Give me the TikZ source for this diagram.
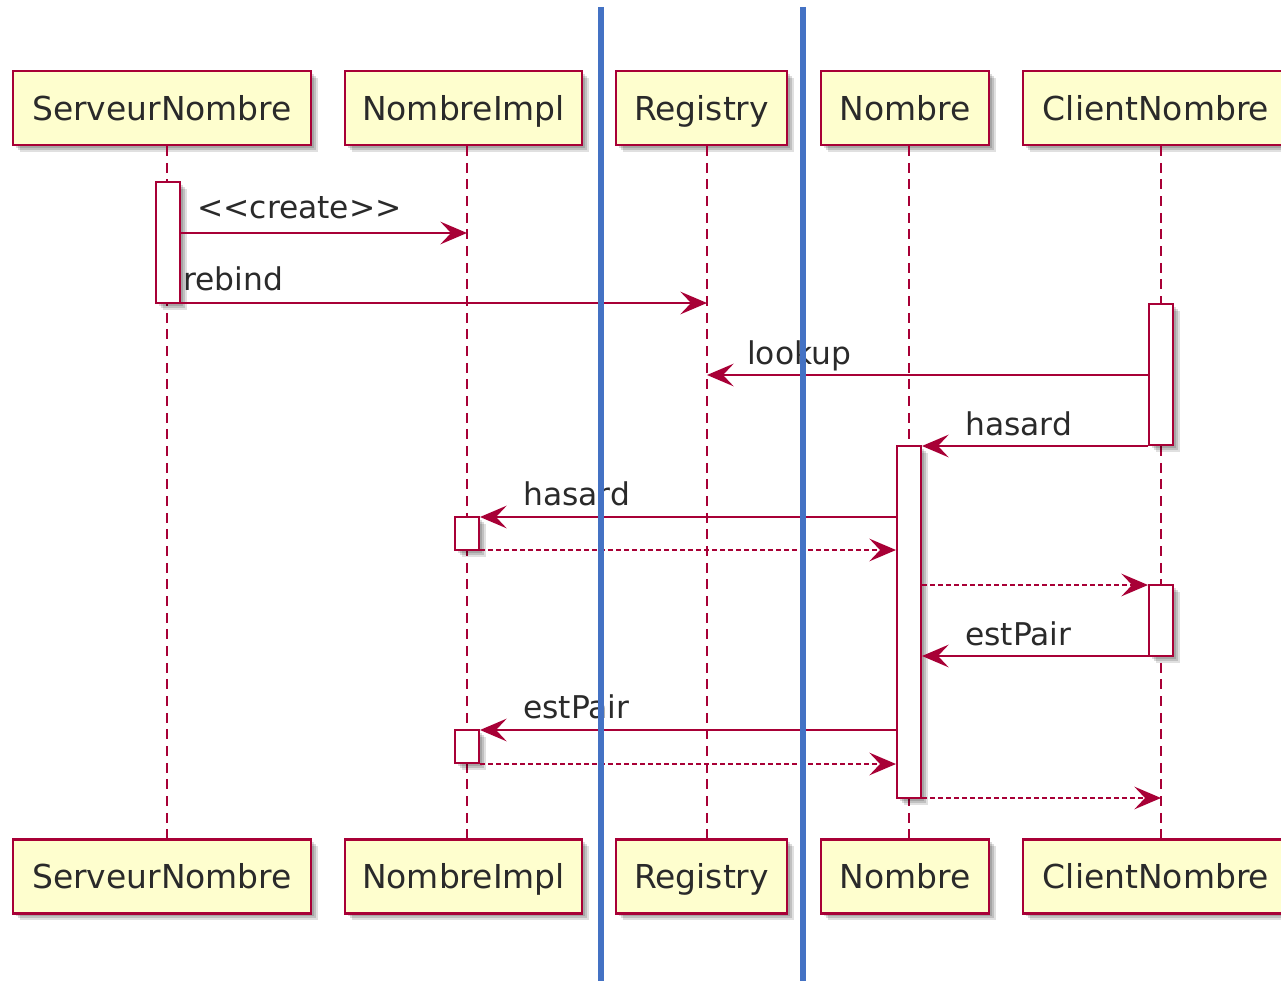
\documentclass[tikz,border=0pt]{standalone}
\usepackage{fontspec}
\setmainfont{DejaVu Sans}
\usetikzlibrary{arrows.meta,shadows,fit}
\definecolor{umlred}{HTML}{A80036}
\definecolor{umlfill}{HTML}{FEFECE}
\definecolor{ink}{HTML}{2A2A2A}
\definecolor{markblue}{HTML}{4472C4}
\begin{document}
\begin{tikzpicture}[x=0.75pt,y=-0.75pt,
  label/.style={font=\fontsize{23.5}{27}\selectfont, text=ink, inner sep=0pt},
  boxshadow/.style={
    drop shadow={shadow xshift=2pt, shadow yshift=-2pt, opacity=0.14, fill=black},
    drop shadow={shadow xshift=3.5pt, shadow yshift=-3.5pt, opacity=0.14, fill=black},
    drop shadow={shadow xshift=5pt, shadow yshift=-5pt, opacity=0.12, fill=black}},
  participant/.style={draw=umlred, line width=1.7pt, fill=umlfill, inner sep=0pt,
    font=\fontsize{24.7}{29}\selectfont, text=ink, text height=18pt, text depth=0pt,
    minimum height=55.5pt, boxshadow},
  activation/.style={draw=umlred, line width=1.5pt, fill=white, inner sep=0pt, boxshadow},
  lifeline/.style={draw=umlred, line width=1.5pt, dash pattern=on 7.5pt off 5pt},
  msg/.style={draw=umlred, line width=1.5pt, -{Stealth[length=20pt,width=17pt,inset=8pt]}},
  reply/.style={msg, dash pattern=on 3.5pt off 2.5pt},
  marker/.style={draw=markblue, line width=3.8pt}
]
\useasboundingbox (0,0) rectangle (1281,981);
\clip (0,0) rectangle (1281,981);

% lifeline positions
\coordinate (xS) at (167,0);
\coordinate (xI) at (467,0);
\coordinate (xR) at (707,0);
\coordinate (xN) at (909,0);
\coordinate (xC) at (1161,0);

% participants, top row
\node[participant, minimum width=223.5pt] (sTop) at (162,108) {ServeurNombre};
\node[participant, minimum width=177.75pt] (iTop) at (463.5,108) {NombreImpl};
\node[participant, minimum width=128.25pt] (rTop) at (701.5,108) {Registry};
\node[participant, minimum width=126pt] (nTop) at (905,108) {Nombre};
\node[participant, minimum width=199.5pt] (cTop) at (1156,108) {ClientNombre};

% participants, bottom row
\node[participant, minimum width=223.5pt] (sBot) at (162,876.5) {ServeurNombre};
\node[participant, minimum width=177.75pt] (iBot) at (463.5,876.5) {NombreImpl};
\node[participant, minimum width=128.25pt] (rBot) at (701.5,876.5) {Registry};
\node[participant, minimum width=126pt] (nBot) at (905,876.5) {Nombre};
\node[participant, minimum width=199.5pt] (cBot) at (1156,876.5) {ClientNombre};

% lifelines
\draw[lifeline] (sTop.south -| xS) -- (sBot.north -| xS);
\draw[lifeline] (iTop.south -| xI) -- (iBot.north -| xI);
\draw[lifeline] (rTop.south -| xR) -- (rBot.north -| xR);
\draw[lifeline] (nTop.south -| xN) -- (nBot.north -| xN);
\draw[lifeline] (cTop.south -| xC) -- (cBot.north -| xC);

% activation bars
\node[activation, fit={(156,182) (180,303)}] (aS) {};
\node[activation, fit={(1149,304) (1173,445)}] (aC1) {};
\node[activation, fit={(897,446) (921,798)}] (aN) {};
\node[activation, fit={(455,517) (479,550)}] (aI1) {};
\node[activation, fit={(1149,585) (1173,656)}] (aC2) {};
\node[activation, fit={(455,730) (479,763)}] (aI2) {};

% message rows
\coordinate (y1) at (0,233);
\coordinate (y2) at (0,303);
\coordinate (y3) at (0,375);
\coordinate (y4) at (0,446);
\coordinate (y5) at (0,517);
\coordinate (y6) at (0,550);
\coordinate (y7) at (0,585);
\coordinate (y8) at (0,656);
\coordinate (y9) at (0,730);
\coordinate (y10) at (0,764);
\coordinate (y11) at (0,798);

% messages
\draw[msg] (aS.east |- y1) -- (xI |- y1);
\node[label, anchor=base west] (l1) at (197,218) {<\kern0pt<create>\kern0pt>};
\draw[msg] (aS.east |- y2) -- (xR |- y2);
\node[label, anchor=base west] (l2) at (183,290) {rebind};
\draw[msg] (aC1.west |- y3) -- (xR |- y3);
\node[label, anchor=base west] (l3) at (747,364) {lookup};
\draw[msg] (aC1.west |- y4) -- (aN.east |- y4);
\node[label, anchor=base west] (l4) at (965,435) {hasard};
\draw[msg] (aN.west |- y5) -- (aI1.east |- y5);
\node[label, anchor=base west] (l5) at (523,505) {hasard};
\draw[reply] (aI1.east |- y6) -- (aN.west |- y6);
\draw[reply] (aN.east |- y7) -- (aC2.west |- y7);
\draw[msg] (aC2.west |- y8) -- (aN.east |- y8);
\node[label, anchor=base west] (l6) at (965,645) {estPair};
\draw[msg] (aN.west |- y9) -- (aI2.east |- y9);
\node[label, anchor=base west] (l7) at (523,718) {estPair};
\draw[reply] (aI2.east |- y10) -- (aN.west |- y10);
\draw[reply] (aN.east |- y11) -- (xC |- y11);

% vertical blue markers
\coordinate (b1t) at (601,7);
\coordinate (b1b) at (601,981);
\coordinate (b2t) at (803,7);
\coordinate (b2b) at (803,981);
\draw[marker] (b1t) -- (b1b);
\draw[marker] (b2t) -- (b2b);
\end{tikzpicture}
\end{document}
